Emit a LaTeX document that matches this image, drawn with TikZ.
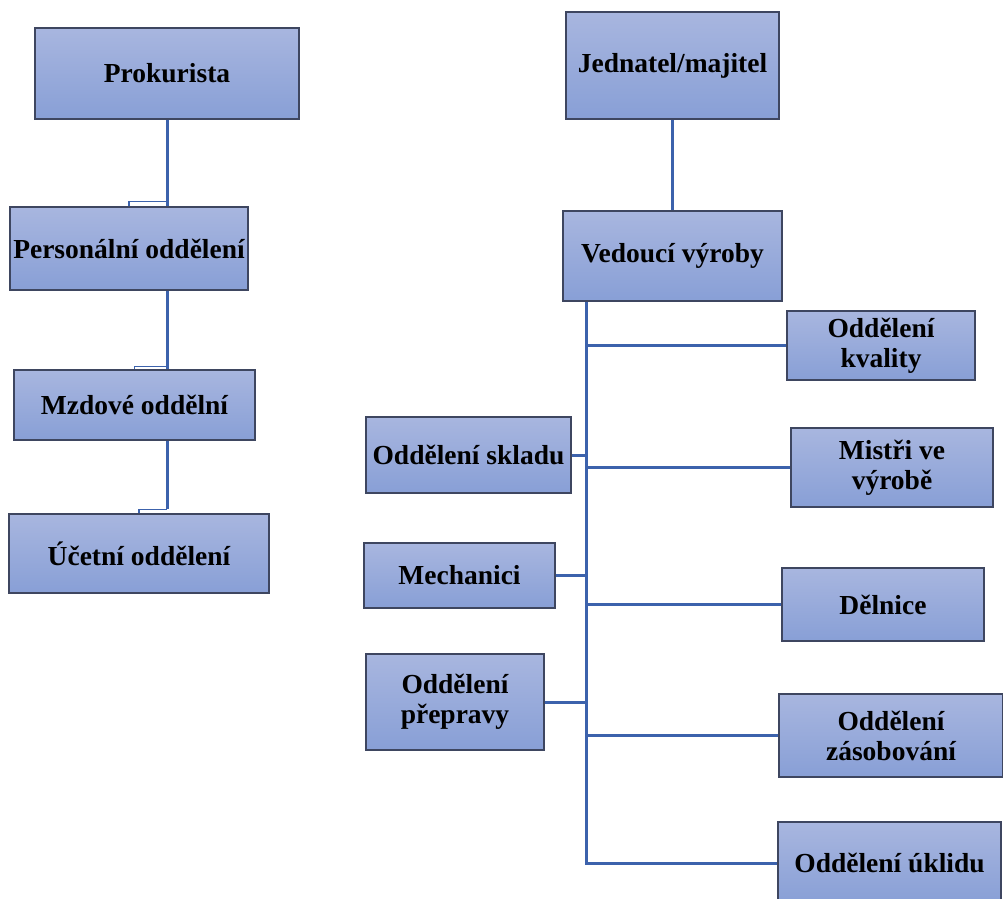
\documentclass[tikz,border=0pt]{standalone}
\usepackage{fontspec}
\setmainfont{Liberation Serif}
\definecolor{boxtop}{RGB}{168,182,223}
\definecolor{boxbot}{RGB}{136,159,214}
\definecolor{boxedge}{RGB}{62,70,96}
\definecolor{lineblue}{RGB}{60,98,172}
\tikzset{
  obox/.style={draw=boxedge, line width=1.2pt, top color=boxtop, bottom color=boxbot,
    inner sep=0pt, align=center, font=\fontsize{27.5}{30}\selectfont\bfseries},
  conn/.style={draw=lineblue, line width=3pt},
  elbow/.style={draw=lineblue, line width=1.3pt}
}
% #1 name, #2 x1, #3 y1, #4 x2, #5 y2, #6 text
\newcommand\orgbox[6]{%
  \node[obox, minimum width={(#4-#2)*1pt}, minimum height={(#5-#3)*1pt}]
    (#1) at ({(#2+#4)/2},{(#3+#5)/2}) {#6};}
\begin{document}
\begin{tikzpicture}[x=1pt,y=-1pt]
\useasboundingbox (0,0) rectangle (1003,898);
\clip (0,0) rectangle (1003,898);
% left tree
\orgbox{prok}{35}{28}{299}{119}{Prokurista}
\orgbox{pers}{10}{207}{248}{290}{Personální oddělení}
\orgbox{mzd}{14}{370}{255}{440}{Mzdové oddělní}
\orgbox{uct}{9}{514}{269}{593}{Účetní oddělení}
\draw[conn] (prok.south) -- (prok.south |- pers.north);
\draw[elbow] ([yshift=5pt]pers.north -| prok.south) -| (pers.north);
\draw[conn] (pers.south -| prok.south) -- (prok.south |- mzd.north);
\draw[elbow] ([yshift=3pt]mzd.north -| prok.south) -| (mzd.north);
\draw[conn] (mzd.south -| prok.south) -- ([yshift=4pt]uct.north -| prok.south);
\draw[elbow] ([yshift=4pt]uct.north -| prok.south) -| (uct.north);
% right tree
\orgbox{jed}{566}{12}{779}{119}{Jednatel/majitel}
\orgbox{ved}{563}{211}{782}{301}{Vedoucí výroby}
\orgbox{kval}{787}{311}{975}{380}{Oddělení\\kvality}
\orgbox{mist}{791}{428}{993}{507}{Mistři ve\\výrobě}
\orgbox{deln}{782}{568}{984}{641}{Dělnice}
\orgbox{zas}{779}{694}{1003}{777}{Oddělení\\zásobování}
\orgbox{ukl}{778}{822}{1001}{904}{Oddělení úklidu}
\orgbox{skl}{366}{417}{571}{493}{Oddělení skladu}
\orgbox{mech}{364}{543}{555}{608}{Mechanici}
\orgbox{prep}{366}{654}{544}{750}{Oddělení\\přepravy}
\coordinate (trunk) at (586,0);
\draw[conn] (jed.south) -- (ved.north);
\draw[conn] (ved.south -| trunk) -- (ukl.west -| trunk) -- (ukl.west);
\draw[conn] (kval.west -| trunk) -- (kval.west);
\draw[conn] (mist.west -| trunk) -- (mist.west);
\draw[conn] (deln.west -| trunk) -- (deln.west);
\draw[conn] (zas.west -| trunk) -- (zas.west);
\draw[conn] (skl.east) -- (skl.east -| trunk);
\draw[conn] (mech.east) -- (mech.east -| trunk);
\draw[conn] (prep.east) -- (prep.east -| trunk);
\end{tikzpicture}
\end{document}
